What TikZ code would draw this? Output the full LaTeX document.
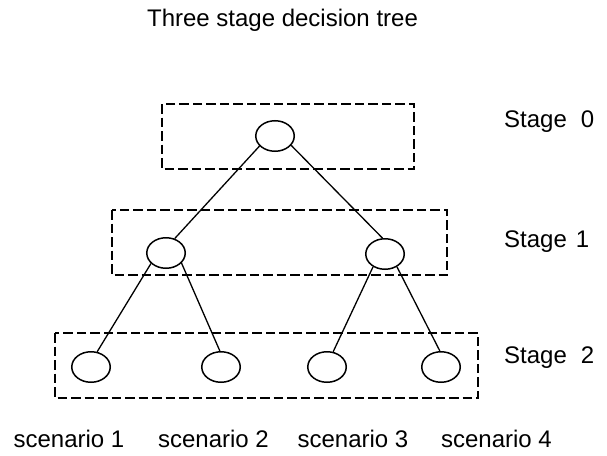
\documentclass[tikz,border=0pt]{standalone}
\usepackage{fontspec}
\setmainfont{Liberation Sans}
\usetikzlibrary{shapes.geometric}
\begin{document}
\begin{tikzpicture}[x=1pt,y=-1pt,
  state/.style={draw, ellipse, minimum width=38.5pt, minimum height=30.5pt,
    inner sep=0pt, line width=1.5pt},
  branch/.style={line width=1.3pt},
  stagebox/.style={line width=1.4pt, dash pattern=on 9.5pt off 4pt},
  label/.style={inner sep=0pt, font=\fontsize{24}{28}\selectfont},
]
\useasboundingbox (0,0) rectangle (607,455);

% title
\node[label, anchor=base] (title) at (282.5,27) {Three stage decision tree};

% dashed frames around each stage
\draw[stagebox] (162,104) rectangle (414,169);
\draw[stagebox] (112,210) rectangle (447,275);
\draw[stagebox] (55,333) rectangle (478,398);

% decision nodes
\node[state] (r)  at (275,136) {};
\node[state] (c1) at (166,253) {};
\node[state] (c2) at (385,254) {};
\node[state] (l1) at (91,367) {};
\node[state] (l2) at (221,367) {};
\node[state] (l3) at (327,367) {};
\node[state] (l4) at (441,367) {};

% branches
\draw[branch] (r.213) -- (c1.59);
\draw[branch] (r.330) -- (c2.99);
\draw[branch] (c1.215) -- (l1.68);
\draw[branch] (c1.327) -- (l2.94);
\draw[branch] (c2.227) -- (l3.68);
\draw[branch] (c2.313) -- (l4.94);

% stage labels
\node[label, anchor=base west] (s0) at (504,127) {Stage\hspace{14pt}0};
\node[label, anchor=base west] (s1) at (504,247) {Stage\hspace{9pt}1};
\node[label, anchor=base west] (s2) at (504,363) {Stage\hspace{14pt}2};

% scenario labels
\node[label, anchor=base] (sc1) at (69,447)    {scenario 1};
\node[label, anchor=base] (sc2) at (213.5,447) {scenario 2};
\node[label, anchor=base] (sc3) at (353,447)   {scenario 3};
\node[label, anchor=base] (sc4) at (496.5,447) {scenario 4};
\end{tikzpicture}
\end{document}
